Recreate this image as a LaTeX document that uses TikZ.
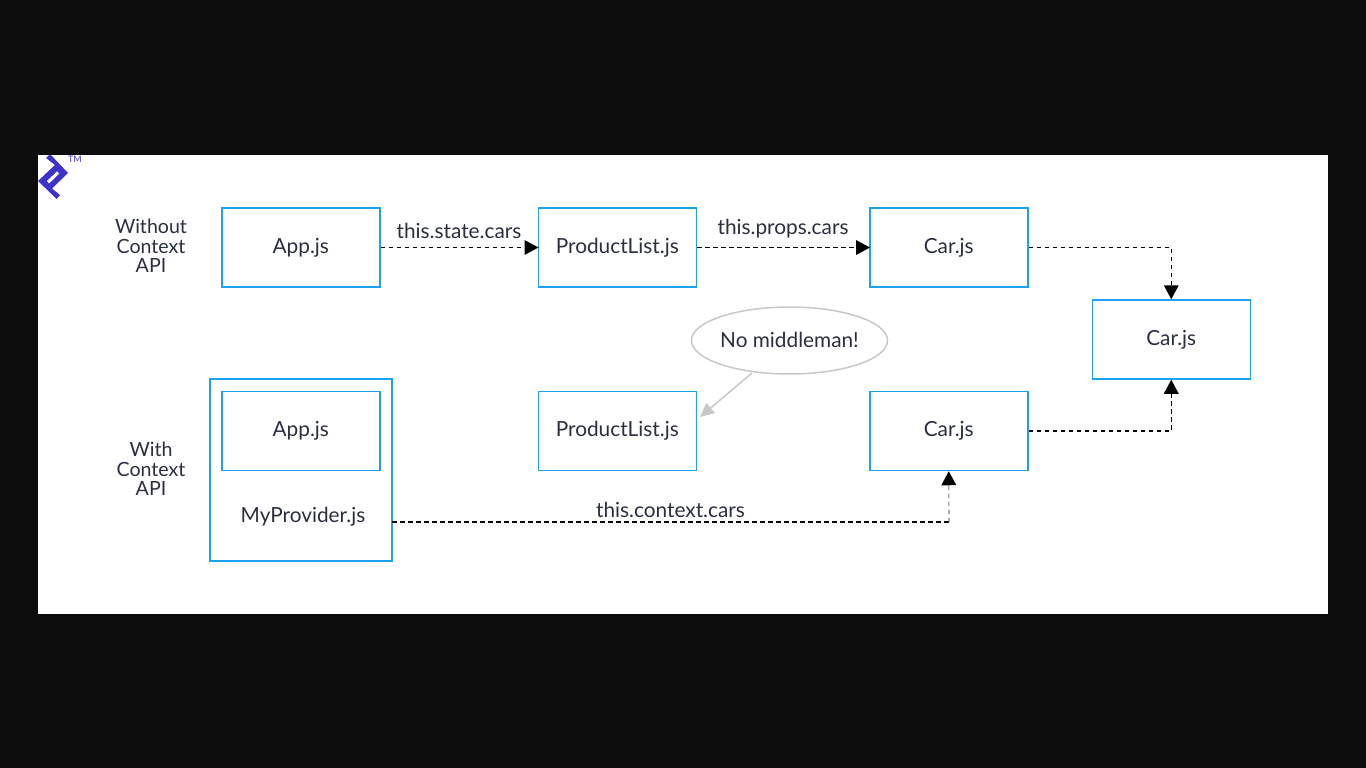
\documentclass[tikz,border=0pt]{standalone}
\usepackage{fontspec}
\setmainfont{Lato}
\usetikzlibrary{arrows.meta,shapes.geometric}
\definecolor{boxblue}{HTML}{1DA1F2}
\definecolor{ink}{HTML}{2B3040}
\definecolor{bubble}{HTML}{C8C8C8}
\definecolor{logo}{HTML}{3D33CC}
\definecolor{bg}{HTML}{0D0D0D}
\tikzset{
  x=1pt,y=-1pt,
  txt/.style={text=ink,font=\fontsize{20.8}{20.8}\selectfont,inner sep=0pt},
  lab/.style={txt,align=center,font=\fontsize{19.6}{19.6}\selectfont},
  bx/.style={draw=boxblue,line width=1.5pt,minimum width=158pt,minimum height=79pt,inner sep=0pt,txt},
  flow/.style={draw=black,line width=1.25pt,dash pattern=on 4.5pt off 3.5pt},
  tip/.style={-{Triangle[length=14pt,width=15pt,fill=black,color=black,line width=0pt,sep=0pt]}},
}
\begin{document}
\begin{tikzpicture}
\useasboundingbox (0,0) rectangle (1366,768);
\fill[bg] (0,0) rectangle (1366,768);
\fill[white] (38,155) rectangle (1328,614);
% logo
\begin{scope}
\clip (38,155) rectangle (1328,614);
\fill[logo,even odd rule] (50,154) -- (68,173) -- (52,188.5) -- (60,195) -- (56.7,199) -- (38,181) -- (55,165) -- (46,158) -- cycle
  (46.7,181) -- (57.3,171) -- (59.3,173.7) -- (49,183.7) -- cycle;
\end{scope}
\node[text=logo,font=\fontsize{9}{9}\selectfont,inner sep=0pt] (tm) at (75,159) {TM};
% side labels
\node[lab] (without) at (151,246) {Without\\[-0.2pt]Context\\[-0.2pt]API};
\node[lab] (with) at (151,469) {With\\[-0.2pt]Context\\[-0.2pt]API};
% top row
\node[bx] (app1) at (300.75,247.5) {\raisebox{0.8pt}{App.js}};
\node[bx] (pl1) at (617.25,247.5) {\raisebox{0.8pt}{ProductList.js}};
\node[bx] (car1) at (948.75,247.5) {\raisebox{0.8pt}{Car.js}};
\node[bx] (car3) at (1171.25,339.5) {\raisebox{0.6pt}{Car.js}};
% bottom row
\node[bx,minimum width=182pt,minimum height=182pt] (prov) at (301,470) {};
\node[bx] (app2) at (300.75,431) {App.js};
\node[txt] (provtxt) at (303,517) {MyProvider.js};
\node[bx] (pl2) at (617.25,431) {ProductList.js};
\node[bx] (car2) at (948.75,431) {Car.js};
% bubble
\node[ellipse,draw=bubble,line width=1.5pt,minimum width=193pt,minimum height=67pt,inner sep=0pt,txt] (mid) at (789.5,340.5) {\raisebox{1.5pt}{No middleman!}};
\coordinate (bubblefoot) at (752,373);
\coordinate (bubbletip) at (700,417);
\draw[draw=bubble,line width=1.5pt,-{Triangle[length=14pt,width=13pt,fill=bubble]}] (bubblefoot) -- (bubbletip);
% connectors
\draw[flow,tip] (app1.east) -- ([xshift=1pt]pl1.west);
\draw[flow,tip] (pl1.east) -- ([xshift=1pt]car1.west);
\draw[flow,tip] (car1.east) -| (car3.north);
\draw[flow,tip] (car2.east) -| (car3.south);
\coordinate (provout) at (392,522);
\coordinate (corner) at (949,522);
\draw[flow] (provout) -- (corner);
\draw[draw=gray,line width=1.1pt,dash pattern=on 4.5pt off 3.5pt,tip] (corner) -- (car2.south);
% connector labels
\node[txt] (l1) at (459,230.5) {this.state.cars};
\node[txt] (l2) at (783,228.5) {this.props.cars};
\node[txt] (l3) at (670.5,509.5) {this.context.cars};
\end{tikzpicture}
\end{document}
